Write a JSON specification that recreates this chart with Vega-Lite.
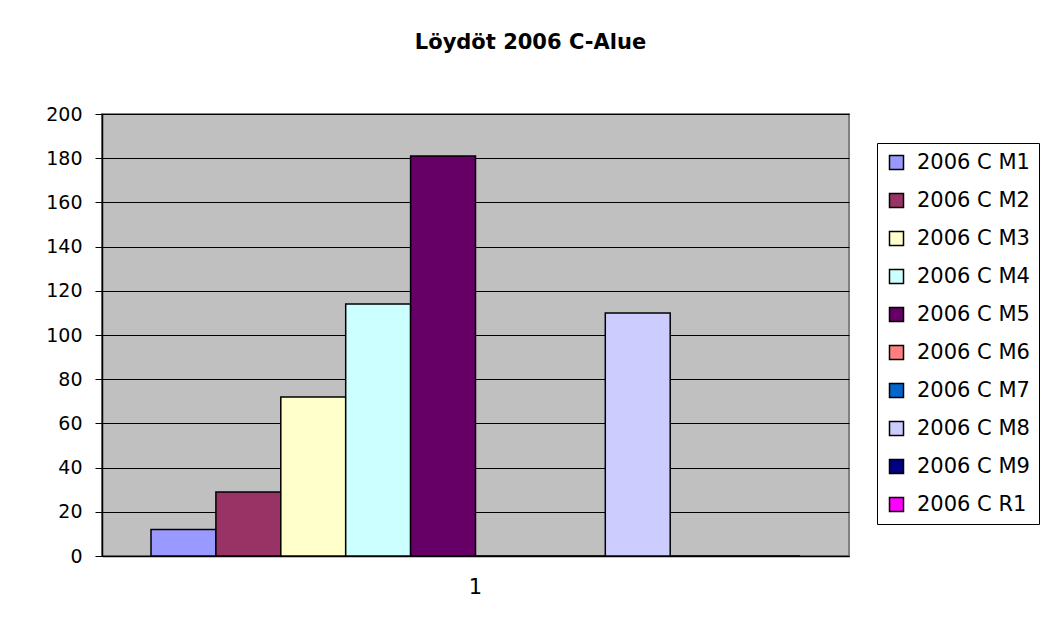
{
  "$schema": "https://vega.github.io/schema/vega-lite/v6.json",
  "width": 747,
  "height": 442,
  "autosize": {"type": "none"},
  "padding": {"left": 102, "top": 114, "right": 195, "bottom": 72},
  "background": "white",
  "title": {
    "text": "Löydöt 2006 C-Alue",
    "font": "DejaVu Sans",
    "fontSize": 21,
    "fontWeight": "bold",
    "color": "black",
    "anchor": "middle",
    "frame": "group",
    "offset": 52,
    "dx": 55
  },
  "data": {
    "values": [
      {"cat": "1", "series": "2006 C M1", "value": 12},
      {"cat": "1", "series": "2006 C M2", "value": 29},
      {"cat": "1", "series": "2006 C M3", "value": 72},
      {"cat": "1", "series": "2006 C M4", "value": 114},
      {"cat": "1", "series": "2006 C M5", "value": 181},
      {"cat": "1", "series": "2006 C M6", "value": 0},
      {"cat": "1", "series": "2006 C M7", "value": 0},
      {"cat": "1", "series": "2006 C M8", "value": 110},
      {"cat": "1", "series": "2006 C M9", "value": 0},
      {"cat": "1", "series": "2006 C R1", "value": 0}
    ]
  },
  "mark": {"type": "bar", "stroke": "black", "strokeWidth": 1.5},
  "encoding": {
    "x": {
      "field": "cat",
      "type": "nominal",
      "title": null,
      "scale": {"paddingInner": 0, "paddingOuter": 0.0755},
      "axis": {
        "labelAngle": 0,
        "labelFont": "DejaVu Sans",
        "labelFontSize": 21,
        "labelColor": "black",
        "labelPadding": 20,
        "ticks": false,
        "domainColor": "black",
        "domainWidth": 1.5
      }
    },
    "xOffset": {
      "field": "series",
      "type": "nominal",
      "sort": ["2006 C M1","2006 C M2","2006 C M3","2006 C M4","2006 C M5","2006 C M6","2006 C M7","2006 C M8","2006 C M9","2006 C R1"],
      "scale": {"paddingInner": 0, "paddingOuter": 0}
    },
    "y": {
      "field": "value",
      "type": "quantitative",
      "title": null,
      "scale": {"domain": [0, 200], "nice": false},
      "axis": {
        "values": [0,20,40,60,80,100,120,140,160,180,200],
        "labelFont": "DejaVu Sans",
        "labelFontSize": 19,
        "labelColor": "black",
        "labelPadding": 13,
        "tickColor": "black",
        "tickSize": 7,
        "domainColor": "black",
        "domainWidth": 1.5,
        "gridColor": "black",
        "gridWidth": 1
      }
    },
    "color": {
      "field": "series",
      "type": "nominal",
      "sort": ["2006 C M1","2006 C M2","2006 C M3","2006 C M4","2006 C M5","2006 C M6","2006 C M7","2006 C M8","2006 C M9","2006 C R1"],
      "scale": {
        "domain": ["2006 C M1","2006 C M2","2006 C M3","2006 C M4","2006 C M5","2006 C M6","2006 C M7","2006 C M8","2006 C M9","2006 C R1"],
        "range": ["#9999FF","#993366","#FFFFCC","#CCFFFF","#660066","#FF8080","#0066CC","#CCCCFF","#000080","#FF00FF"]
      },
      "legend": {
        "title": null,
        "orient": "none",
        "legendX": 775,
        "legendY": 29,
        "strokeColor": "black",
        "fillColor": "white",
        "padding": 9,
        "symbolType": "square",
        "symbolSize": 196,
        "symbolStrokeColor": "black",
        "symbolStrokeWidth": 1.5,
        "symbolOpacity": 1,
        "labelFont": "DejaVu Sans",
        "labelFontSize": 21,
        "labelColor": "black",
        "labelOffset": 10,
        "labelLimit": 200,
        "rowPadding": 16
      }
    }
  },
  "config": {
    "view": {"fill": "#C0C0C0", "stroke": "#808080", "strokeWidth": 2}
  }
}
